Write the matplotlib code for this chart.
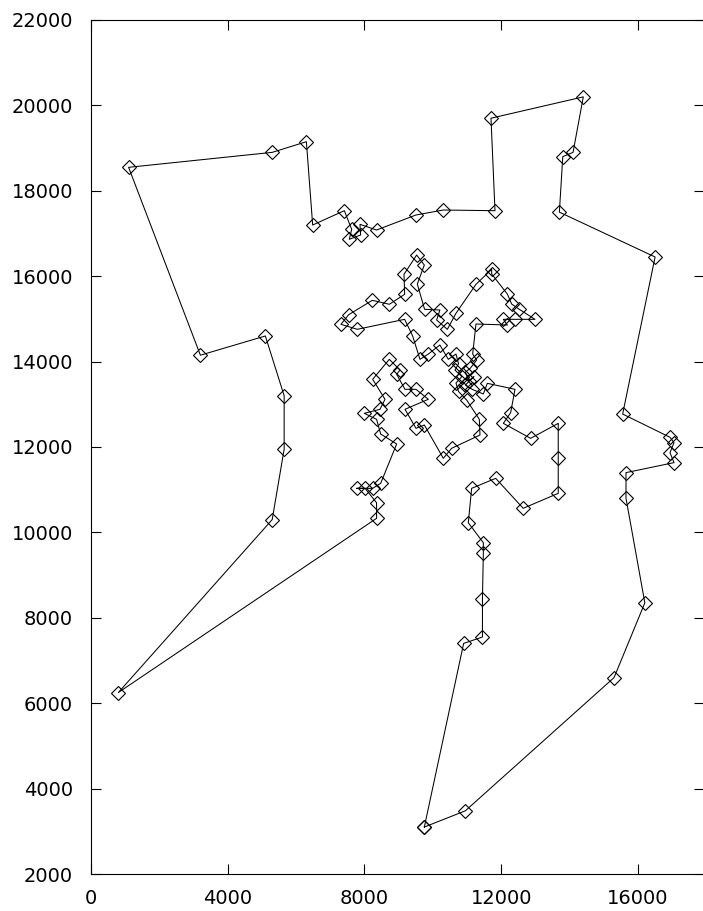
import matplotlib
matplotlib.use("Agg")
import matplotlib.pyplot as plt

# 투어 경로 좌표 (그림에서 읽은 값, 순서대로 연결, 마지막에 처음 점으로 닫음)
tour_x = [9750, 10950, 15300, 16200, 15649, 15649, 17053, 16936, 17053, 16936,
          15551, 16500, 13700, 13800, 14100, 14400, 11700, 11817, 10305, 9503,
          8353, 7868, 7887, 7556, 7625, 7410, 6484, 6300, 5300, 1100,
          3200, 5100, 5650, 5650, 5300, 800,
          8353, 8353, 8015, 7771, 8239, 8473, 8941, 8473, 8353, 7994,
          8453, 8600, 8239, 8726, 9038, 8941, 9184, 9506, 9867, 9184,
          9506, 9750, 10305, 10548, 11378, 11359, 10988,
          10750, 10676, 10850, 10647, 10750, 10676,
          10452, 10205, 9867, 9623, 9406, 9173, 7790, 7312, 7535, 8229,
          8726, 9175, 9155, 9525, 9750, 9545, 9757, 10205, 10110, 10423,
          10676, 11261, 11720, 11720, 12178, 12303, 12527, 12987, 12402, 12061,
          12178, 11261, 11164, 11280,
          11100, 10950, 11050, 11200, 10950, 11150, 11476, 11593,
          12402, 12275, 12061, 12859, 13667,
          13667, 13667, 12642, 11837, 11134, 11036, 11476, 11476, 11450, 11450,
          10900]
tour_y = [3100, 3480, 6600, 8350, 10800, 11400, 11634, 11868, 12102, 12227,
          12772, 16450, 17500, 18800, 18900, 20200, 19700, 17534, 17550, 17433,
          17082, 17215, 16965, 16864, 17098, 17534, 17199, 19150, 18900, 18550,
          14150, 14600, 13200, 11950, 10300, 6250,
          10330, 10695, 11032, 11032, 11032, 11149, 12070, 12304, 12648, 12789,
          12883, 13117, 13585, 14053, 13803, 13702, 13351, 13351, 13117, 12883,
          12437, 12515, 11735, 11969, 12281, 12648, 13100,
          13300, 13500, 13650, 13800, 13950, 14177,
          14053, 14389, 14177, 14053, 14606, 14990, 14756, 14873, 15098, 15435,
          15342, 15576, 16044, 16496, 16262, 15817, 15225, 15208, 14974, 14756,
          15131, 15810, 16161, 16051, 15583, 15349, 15225, 14990, 14990, 14990,
          14857, 14880, 14177, 14037,
          13850, 13750, 13550, 13650, 13450, 13350, 13241, 13491,
          13351, 12804, 12554, 12203, 12554,
          11735, 10915, 10564, 11266, 11032, 10227, 9758, 9510, 8450, 7550,
          7400]

x_ticks = [0, 4000, 8000, 12000, 16000]
y_ticks = [2000, 4000, 6000, 8000, 10000, 12000, 14000, 16000, 18000, 20000, 22000]


def main():
    plt.rcParams['font.family'] = ['DejaVu Sans']

    fig = plt.figure(figsize=(7.03, 9.11), dpi=100)
    # 축 영역은 픽셀 기준으로 맞춤 (왼쪽 91, 오른쪽 703, 위 20, 아래 874)
    ax = fig.add_axes([91 / 703, 37 / 911, 613 / 703, 854 / 911])

    # 닫힌 경로
    xs = tour_x + tour_x[:1]
    ys = tour_y + tour_y[:1]
    ax.plot(xs, ys, '-', color='black', linewidth=0.75,
            marker='D', markersize=7.3, markerfacecolor='none',
            markeredgecolor='black', markeredgewidth=0.8)

    ax.set_xlim(0, 613 * 16000 / 547)
    ax.set_ylim(2000, 22000)
    ax.set_xticks(x_ticks)
    ax.set_yticks(y_ticks)
    ax.tick_params(direction='in', length=7, width=0.8, top=True, right=True,
                   labelsize=14)
    ax.tick_params(axis='y', pad=13)
    ax.tick_params(axis='x', pad=11)
    for s in ax.spines.values():
        s.set_linewidth(0.8)

    fig.savefig('out.png', dpi=100)


if __name__ == "__main__":
    main()
